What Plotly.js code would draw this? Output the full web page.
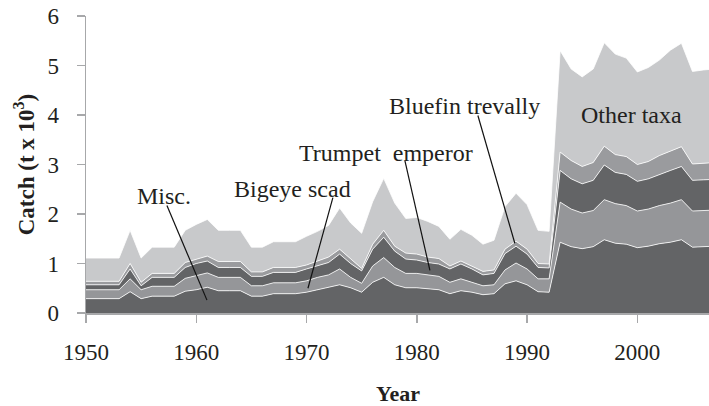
<!DOCTYPE html>
<html>
<head>
<meta charset="utf-8">
<script src="https://cdn.plot.ly/plotly-3.0.1.min.js"></script>
<style>html,body{margin:0;padding:0;background:#fff}#chart{width:709px;height:406px}</style>
</head>
<body>
<div id="chart"></div>
<script>
const years = [];
for (let y = 1950; y <= 2007; y++) years.push(y);

const misc = [0.29,0.29,0.29,0.29,0.43,0.29,0.34,0.34,0.34,0.44,
  0.47,0.52,0.45,0.45,0.45,0.34,0.34,0.39,0.39,0.39,
  0.42,0.47,0.52,0.57,0.51,0.42,0.62,0.72,0.57,0.51,
  0.51,0.49,0.47,0.39,0.45,0.42,0.37,0.39,0.59,0.65,
  0.57,0.43,0.42,1.43,1.34,1.30,1.34,1.48,1.41,1.39,
  1.32,1.35,1.40,1.43,1.48,1.33,1.34,1.35];

const bigeyeScad = [0.18,0.18,0.18,0.18,0.26,0.18,0.20,0.20,0.20,0.26,
  0.28,0.29,0.27,0.27,0.27,0.21,0.21,0.22,0.22,0.22,
  0.23,0.25,0.25,0.32,0.21,0.18,0.33,0.40,0.35,0.29,
  0.29,0.28,0.27,0.23,0.24,0.20,0.18,0.18,0.28,0.36,
  0.32,0.26,0.27,0.81,0.76,0.72,0.73,0.81,0.80,0.78,
  0.74,0.75,0.77,0.79,0.81,0.73,0.73,0.73];

const trumpetEmperor = [0.10,0.10,0.10,0.10,0.20,0.08,0.18,0.18,0.18,0.22,
  0.25,0.24,0.20,0.20,0.20,0.19,0.19,0.21,0.21,0.21,
  0.24,0.23,0.25,0.30,0.28,0.25,0.34,0.41,0.33,0.29,
  0.27,0.25,0.25,0.27,0.30,0.27,0.22,0.23,0.33,0.34,
  0.30,0.23,0.22,0.64,0.61,0.59,0.61,0.70,0.63,0.63,
  0.60,0.61,0.63,0.66,0.67,0.62,0.62,0.62];

const bluefinTrevally = [0.07,0.07,0.07,0.07,0.11,0.07,0.08,0.08,0.08,0.10,
  0.09,0.10,0.12,0.12,0.12,0.09,0.09,0.10,0.10,0.10,
  0.08,0.10,0.11,0.10,0.09,0.05,0.10,0.14,0.10,0.12,
  0.12,0.11,0.11,0.06,0.06,0.06,0.07,0.07,0.09,0.10,
  0.10,0.08,0.08,0.37,0.37,0.35,0.36,0.38,0.36,0.36,
  0.34,0.35,0.38,0.39,0.40,0.33,0.34,0.34];

const otherTaxa = [0.47,0.47,0.47,0.47,0.67,0.49,0.53,0.53,0.53,0.65,
  0.70,0.74,0.63,0.63,0.63,0.50,0.50,0.52,0.52,0.52,
  0.58,0.60,0.64,0.83,0.73,0.71,0.86,1.05,0.87,0.70,
  0.74,0.72,0.65,0.54,0.64,0.62,0.55,0.60,0.86,0.97,
  0.90,0.67,0.66,2.05,1.85,1.81,1.89,2.09,2.03,1.99,
  1.87,1.90,1.93,2.04,2.09,1.87,1.88,1.89];

const seriesNames = ["Misc.", "Bigeye scad", "Trumpet emperor", "Bluefin trevally", "Other taxa"];
const seriesValues = [misc, bigeyeScad, trumpetEmperor, bluefinTrevally, otherTaxa];
const seriesColors = ["#636466", "#959699", "#636466", "#9a9b9e", "#c8c9cb"];

// callout labels
const labelText = ["Misc.", "Bigeye scad", "Trumpet&nbsp;&nbsp;emperor", "Bluefin trevally", "Other taxa"];
const labelX = [1957.07, 1968.77, 1977.2, 1984.36, 1999.5];
const labelY = [2.37, 2.51, 3.24, 4.19, 4.0];
const lineStartX = [1957.34, 1972.39, 1978.92, 1985.54, null];
const lineStartY = [2.17, 2.33, 3.08, 3.99, null];
const lineTipX = [1960.97, 1970.13, 1981.19, 1988.89, null];
const lineTipY = [0.26, 0.50, 0.86, 1.41, null];

const traces = seriesNames.map((n, i) => ({
  type: "scatter",
  mode: "lines",
  name: n,
  x: years,
  y: seriesValues[i],
  stackgroup: "one",
  fillcolor: seriesColors[i],
  line: {color: "#ffffff", width: 0.8},
  hoverinfo: "skip"
}));

const FONT = "Liberation Serif, Times New Roman, serif";
const annotations = labelText.map((t, i) => ({
  x: labelX[i], y: labelY[i], xref: "x", yref: "y",
  text: t, showarrow: false,
  font: {family: FONT, size: 24, color: "#231f20"}
}));
annotations.push({
  xref: "paper", yref: "paper", x: 0.5, y: -0.222, yanchor: "top",
  text: "<b>Year</b>", showarrow: false,
  font: {family: FONT, size: 22, color: "#231f20"}
});

const shapes = [];
for (let i = 0; i < lineStartX.length; i++) {
  if (lineStartX[i] === null) continue;
  shapes.push({type: "line", xref: "x", yref: "y",
    x0: lineStartX[i], y0: lineStartY[i], x1: lineTipX[i], y1: lineTipY[i],
    line: {color: "#111111", width: 1.2}});
}

const layout = {
  width: 709, height: 406,
  margin: {l: 86, r: 0, t: 16, b: 93},
  paper_bgcolor: "#ffffff", plot_bgcolor: "#ffffff",
  showlegend: false,
  font: {family: FONT, size: 23, color: "#231f20"},
  xaxis: {
    range: [1950, 2006.5], tick0: 1950, dtick: 10,
    showgrid: false, zeroline: false,
    showline: true, linecolor: "#a7a8aa", linewidth: 1.5,
    ticks: "outside", ticklen: 8, tickcolor: "#a7a8aa", tickwidth: 1.5,
    ticklabelstandoff: 10,
    tickfont: {family: FONT, size: 23, color: "#231f20"}
  },
  yaxis: {
    range: [0, 6], dtick: 1,
    showgrid: false, zeroline: false,
    showline: true, linecolor: "#a7a8aa", linewidth: 1.5,
    ticks: "outside", ticklen: 8, tickcolor: "#a7a8aa", tickwidth: 1.5,
    ticklabelstandoff: 13,
    tickfont: {family: FONT, size: 23, color: "#231f20"},
    title: {text: "<b>Catch (t x 10<sup>3</sup>)</b>", font: {family: FONT, size: 23, color: "#231f20"}, standoff: 6}
  },
  annotations: annotations,
  shapes: shapes
};

Plotly.newPlot("chart", traces, layout, {displayModeBar: false, staticPlot: true});
</script>
</body>
</html>
